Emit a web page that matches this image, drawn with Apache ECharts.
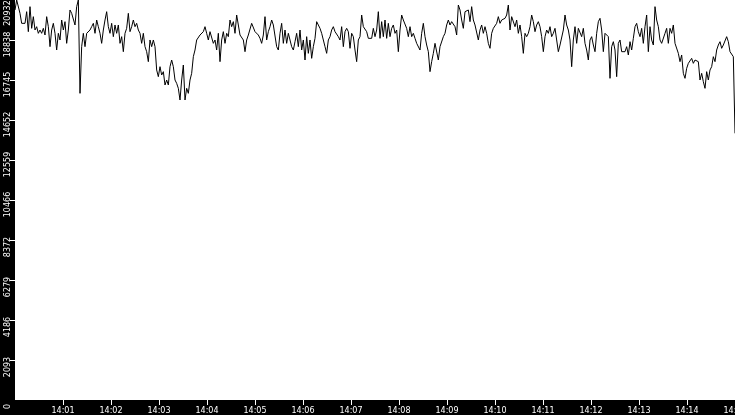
<!DOCTYPE html>
<html>
<head>
<meta charset="utf-8">
<script src="https://cdn.jsdelivr.net/npm/echarts@6/dist/echarts.min.js"></script>
<style>
  html, body { margin: 0; padding: 0; background: #000; }
  #chart { width: 735px; height: 415px; }
</style>
</head>
<body>
<div id="chart"></div>
<script>
// 采样：14:00:00 ~ 14:15:00，等间隔读数
const startMinute = 0;          // 14:00
const spanSeconds = 900;        // 15 分钟
const yMax = 20932;
const yStep = 2093.2;
// 分钟刻度（14:00 处不画刻度和文字）
const xTickSeconds = [60, 120, 180, 240, 300, 360, 420, 480, 540, 600, 660, 720, 780, 840, 900];

// 14:00:00 - 14:04:53
const valuesA = [
  20409, 20932, 20845, 20234, 19711, 19624, 19711, 20321, 19275, 20583,
  19449, 20060, 19362, 19536, 19188, 19362, 19188, 19449, 19100, 20060,
  19536, 18490, 19362, 19711, 19188, 18315, 19188, 18839, 19885, 19362,
  19798, 18664, 19362, 20409, 20234, 20147, 19624, 20583, 20932, 16048,
  18490, 19188, 18490, 19188, 19275, 19362, 19536, 19711, 19188, 19885,
  19536, 19188, 18664, 19362, 19885, 20321, 19536, 19188, 19711, 19013,
  19624, 19188, 19624, 18664, 19013, 18228, 19188, 19449, 20234, 19275,
  19536, 19885, 19536, 19711, 19362, 19188, 18664, 19188, 18490, 18228,
  17705, 18839, 18490, 18839, 18490, 17269, 16920, 17443, 17007, 17182,
  16484, 16745, 16484, 17443, 17792, 17443, 16745, 16571, 16309, 15699,
  16745, 17530, 15699, 16309, 16048, 16745, 17094, 17966, 18315, 18839,
  18839, 19100, 19188, 19275, 19536, 19188, 18839, 19275, 19188, 18664,
  18839, 18315, 19188, 17705, 18839, 19275, 18664, 19188, 19013, 19885,
  19536, 19798, 19188, 20147, 20060, 19100, 19188, 18839, 18228, 18839,
  19100
];
// 14:04:56 - 14:07:30
const valuesB = [
  19013, 19711, 19798, 19275, 19275, 19100, 18926, 18664, 19100, 20060,
  18839, 19275, 19536, 19885, 19624, 19711, 18490, 18315, 19188, 19711,
  18664, 19362, 18664, 19188, 18839, 18490, 18315, 18751, 19188, 18490,
  19362, 18315, 18839, 17792, 19013, 18141, 18839, 17879, 18490, 18926,
  19798, 19885, 19449, 19188, 18839, 18490, 18141, 18839, 19013, 19362,
  19536, 19275, 19362, 19013, 18839, 19536, 18490, 19275, 19449, 19275,
  18403, 19188, 19013, 18315, 17705, 18839, 19013, 20147, 19536, 19449,
  19275, 18926, 19013, 18926, 19449
];
// 14:07:32 - 14:10:06
const valuesC = [
  19013, 19362, 20321, 18926, 19798, 19013, 19885, 18926, 19711, 19013,
  19449, 19624, 19188, 19362, 18228, 19362, 20147, 19885, 19798, 19449,
  19013, 19536, 19013, 19188, 18926, 18664, 18751, 18315, 19188, 19711,
  19013, 18577, 18228, 17182, 17705, 18141, 18664, 18751, 17792, 18490,
  18577, 19013, 19188, 19624, 19885, 19624, 19798, 19711, 19536, 19100,
  20670, 20409, 19885, 19449, 20321, 20234, 20409, 19798, 20583, 19885,
  19624, 19711, 18839, 19362, 19624, 19188, 19536, 19188, 18664, 18403,
  19188, 19449, 19536, 19711, 20060
];
// 14:10:08 - 14:12:42
const valuesD = [
  19711, 19885, 19798, 19973, 20147, 20670, 19362, 20060, 20147, 19536,
  19885, 19188, 19624, 19013, 18141, 19188, 19013, 19188, 19536, 20147,
  19798, 19275, 19624, 19798, 19536, 19013, 18228, 19013, 19362, 19188,
  19536, 19013, 19188, 19449, 18839, 18228, 18577, 18490, 19362, 20147,
  19624, 19362, 18839, 17443, 18839, 19536, 18664, 19449, 19536, 19013,
  19449, 18664, 18315, 17792, 18839, 19013, 18577, 18228, 19188, 19798,
  19973, 19362, 18228, 19188, 19275, 19013, 16833, 18490, 18751, 18315,
  16920, 18664, 18839, 18228, 18315
];
// 14:12:44 - 14:15:00
const valuesE = [
  18228, 18490, 18054, 18751, 18315, 18926, 19536, 19711, 19275, 19013,
  19449, 18664, 19536, 20147, 18228, 19536, 18839, 18577, 20583, 19885,
  19536, 18839, 18664, 18664, 19188, 19449, 18664, 19449, 19188, 19624,
  18664, 18577, 18141, 17705, 18054, 17094, 16833, 17356, 17618, 17705,
  17879, 17618, 17792, 17879, 17705, 16745, 17094, 16658, 16309, 17182,
  16745, 17269, 17443, 17966, 17705, 18315, 18577, 18751, 18403, 18577,
  18664, 19013, 18751, 18228, 18315, 17966, 13955
];

const values = [].concat(valuesA, valuesB, valuesC, valuesD, valuesE);
const sampleStep = spanSeconds / (values.length - 1);
const seriesData = values.map((v, i) => [i * sampleStep, v]);

function pad2(n) { return n < 10 ? '0' + n : '' + n; }

const chart = echarts.init(document.getElementById('chart'), null, { renderer: 'canvas' });

const labelFont = { color: '#fff', fontFamily: 'DejaVu Sans', fontSize: 8 };
const yRich = {
  d: { ...labelFont },
  s4: { ...labelFont, width: 14 },
  s5: { ...labelFont, width: 9 },
  top: { ...labelFont, width: 26 },
  zero: { ...labelFont, width: 13 }
};

// 竖排刻度文字：数字从刻度下方往上写，用尾部空白把文字往下推
function yLabel(v) {
  const s = String(Math.floor(v + 1e-6));
  return '{d|' + s + '}{s' + s.length + '| }';
}
// 顶部和 0 单独一根轴画，避免被重叠检测隐藏
function yEndLabel(v) {
  if (v >= yMax - 1) return '{d|' + yMax + '}{top| }';
  if (v < 1) return '{d|0}{zero| }';
  return '';
}

const yBase = {
  type: 'value',
  min: 0,
  max: yMax,
  interval: yStep,
  position: 'left',
  axisLine: { show: false },
  splitLine: { show: false }
};

chart.setOption({
  backgroundColor: '#000',
  animation: false,
  grid: {
    left: 15, right: 0, top: 0, bottom: 15,
    show: true, backgroundColor: '#fff', borderWidth: 0,
    outerBoundsMode: 'none'
  },
  xAxis: {
    type: 'value',
    min: 0,
    max: spanSeconds,
    interval: 60,
    axisLine: { show: false },
    axisTick: {
      show: true, length: 5, customValues: xTickSeconds,
      lineStyle: { color: '#fff', width: 1 }
    },
    splitLine: { show: false },
    axisLabel: {
      ...labelFont,
      margin: 7,
      customValues: xTickSeconds,
      showMinLabel: true,
      showMaxLabel: true,
      formatter: (v) => '14:' + pad2(startMinute + Math.round(v / 60))
    }
  },
  yAxis: [{
    ...yBase,
    axisTick: { show: true, length: 5, lineStyle: { color: '#fff', width: 1 } },
    axisLabel: {
      ...labelFont,
      rotate: 90,
      margin: 3,
      showMinLabel: false,
      showMaxLabel: false,
      formatter: yLabel,
      rich: yRich
    }
  }, {
    ...yBase,
    axisTick: { show: false },
    axisLabel: {
      ...labelFont,
      rotate: 90,
      margin: 3,
      showMinLabel: true,
      showMaxLabel: true,
      formatter: yEndLabel,
      rich: yRich
    }
  }],
  series: [{
    type: 'line',
    yAxisIndex: 0,
    data: seriesData,
    showSymbol: false,
    symbol: 'none',
    sampling: null,
    clip: true,
    lineStyle: { color: '#000', width: 1 }
  }]
});
</script>
</body>
</html>
